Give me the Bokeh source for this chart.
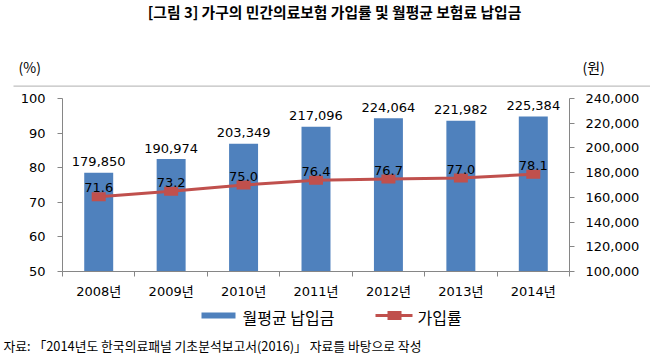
from bokeh.plotting import figure
from bokeh.layouts import column
from bokeh.models import (Range1d, LinearAxis, FixedTicker, NumeralTickFormatter,
                          ColumnDataSource, LabelSet, Label, BoxAnnotation)
from bokeh.core.properties import value
from bokeh.embed import file_html
from bokeh.resources import INLINE

years = ["2008년", "2009년", "2010년", "2011년", "2012년", "2013년", "2014년"]
premium = [179850, 190974, 203349, 217096, 224064, 221982, 225384]
rate = [71.6, 73.2, 75.0, 76.4, 76.7, 77.0, 78.1]
left_ticks = [50, 60, 70, 80, 90, 100]
right_ticks = [100000, 120000, 140000, 160000, 180000, 200000, 220000, 240000]

title_text = "[그림 3] 가구의 민간의료보험 가입률 및 월평균 보험료 납입금"
unit_left = "(%)"
unit_right = "(원)"
legend_bar = "월평균 납입금"
legend_line = "가입률"
source_note = "자료: 「2014년도 한국의료패널 기초분석보고서(2016)」 자료를 바탕으로 작성"

BAR = "#4F81BD"
RED = "#C0504D"
AXIS = "#868686"
FONT = "'DejaVu Sans', 'Noto Sans CJK KR'"
KFONT = "Noto Sans CJK KR"

W = 650
TOP_H = 88          # header strip height
FRAME_TOP = 88      # main frame top (page px)
AXIS_TOP = 98       # where 100 / 240,000 sit
FRAME_BOT = 271     # where 50 / 100,000 sit
MAIN_BOT = 302
PAGE_H = 360


def blank(h):
    f = figure(width=W, height=h, output_backend="svg", toolbar_location=None,
               x_range=Range1d(0, W), y_range=Range1d(0, h),
               x_axis_location=None, y_axis_location=None,
               frame_width=W, frame_height=h, frame_align=False,
               min_border=0, min_border_left=0, min_border_right=0,
               min_border_top=0, min_border_bottom=0)
    f.grid.visible = False
    f.outline_line_color = None
    return f


# ---------- header ----------
top = blank(TOP_H)
top.add_layout(Label(x=334, y=TOP_H - 11, text=title_text,
                     text_align="center", text_baseline="middle", text_font=KFONT,
                     text_font_size="14.8px", text_font_style="bold", text_color="#000000"))
top.add_layout(Label(x=18, y=TOP_H - 66, text=unit_left,
                     text_align="left", text_baseline="middle", text_font=KFONT,
                     text_font_size="14px", text_color="#000000"))
top.add_layout(Label(x=582, y=TOP_H - 66, text=unit_right,
                     text_align="left", text_baseline="middle", text_font=KFONT,
                     text_font_size="14px", text_color="#000000"))
top.add_layout(BoxAnnotation(left=13, right=W, bottom=TOP_H - 86.3, top=TOP_H - 85,
                             fill_color="#BFBFBF", fill_alpha=1, line_color=None))

# ---------- main chart ----------
xs = [i + 0.5 for i in range(len(years))]
src = ColumnDataSource(dict(
    x=xs, premium=premium, rate=rate,
    premium_txt=[f"{v:,}" for v in premium],
    rate_txt=[f"{v:.1f}" for v in rate],
))

frac = (FRAME_BOT - FRAME_TOP) / (FRAME_BOT - AXIS_TOP)
lmin, lmax = left_ticks[0], left_ticks[-1]
rmin, rmax = right_ticks[0], right_ticks[-1]

p = figure(width=W, height=MAIN_BOT - FRAME_TOP, output_backend="svg", toolbar_location=None,
           x_range=Range1d(0, len(years)),
           y_range=Range1d(lmin, lmin + (lmax - lmin) * frac),
           frame_align=False,
           min_border_left=62, min_border_right=W - 569,
           min_border_top=0, min_border_bottom=MAIN_BOT - FRAME_BOT)
p.extra_y_ranges = {"won": Range1d(rmin, rmin + (rmax - rmin) * frac)}
p.outline_line_color = None
p.xgrid.visible = False
p.ygrid.visible = False

p.vbar(x="x", top="premium", bottom=rmin, width=0.4, source=src, y_range_name="won",
       fill_color=BAR, line_color=None)
p.line(x="x", y="rate", source=src, line_color=RED, line_width=3)
p.rect(x="x", y="rate", width=14, height=9, width_units="screen", height_units="screen",
       source=src, fill_color=RED, line_color=None)

xa = p.xaxis[0]
xa.ticker = FixedTicker(ticks=xs, minor_ticks=list(range(len(years) + 1)))
xa.major_label_overrides = {x: y for x, y in zip(xs, years)}
xa.major_tick_out = 0
xa.major_tick_in = 0
xa.minor_tick_out = 5
xa.minor_tick_in = 0
xa.minor_tick_line_color = AXIS
xa.axis_line_color = AXIS
xa.major_label_text_font = FONT
xa.major_label_text_font_size = "13px"
xa.major_label_text_color = "#000000"
xa.major_label_standoff = 7

ya = p.yaxis[0]
ya.ticker = FixedTicker(ticks=left_ticks)
ya.bounds = (lmin, lmax)
ya.axis_line_color = AXIS
ya.major_tick_line_color = AXIS
ya.major_tick_out = 5
ya.major_tick_in = 0
ya.minor_tick_line_color = None
ya.major_label_text_font = FONT
ya.major_label_text_font_size = "13px"
ya.major_label_text_color = "#000000"
ya.major_label_standoff = 12

ra = LinearAxis(y_range_name="won", ticker=FixedTicker(ticks=right_ticks),
                formatter=NumeralTickFormatter(format="0,0"), bounds=(rmin, rmax))
ra.axis_line_color = AXIS
ra.major_tick_line_color = AXIS
ra.major_tick_out = 5
ra.major_tick_in = 0
ra.minor_tick_line_color = None
ra.major_label_text_font = FONT
ra.major_label_text_font_size = "13px"
ra.major_label_text_color = "#000000"
ra.major_label_standoff = 11
p.add_layout(ra, "right")

p.add_layout(LabelSet(x="x", y="premium", text="premium_txt", source=src, y_range_name="won",
                      text_align="center", text_baseline="middle", y_offset=11,
                      text_font=value(FONT), text_font_size="13px", text_color="#000000"))
p.add_layout(LabelSet(x="x", y="rate", text="rate_txt", source=src,
                      text_align="center", text_baseline="middle", y_offset=9,
                      text_font=value(FONT), text_font_size="13px", text_color="#000000"))

# ---------- legend + source ----------
bot_h = PAGE_H - MAIN_BOT
bot = blank(bot_h)


def yb(Y):
    return PAGE_H - Y


bot.add_layout(BoxAnnotation(left=201, right=235, bottom=yb(318), top=yb(312),
                             fill_color=BAR, fill_alpha=1, line_color=None))
bot.add_layout(Label(x=242, y=yb(316), text=legend_bar,
                     text_align="left", text_baseline="middle", text_font=KFONT,
                     text_font_size="16px", text_color="#000000"))
bot.add_layout(BoxAnnotation(left=375, right=412, bottom=yb(316.5), top=yb(313.5),
                             fill_color=RED, fill_alpha=1, line_color=None))
bot.add_layout(BoxAnnotation(left=387, right=401, bottom=yb(319.5), top=yb(310.5),
                             fill_color=RED, fill_alpha=1, line_color=None))
bot.add_layout(Label(x=417, y=yb(316), text=legend_line,
                     text_align="left", text_baseline="middle", text_font=KFONT,
                     text_font_size="16px", text_color="#000000"))
bot.add_layout(Label(x=3, y=yb(345), text=source_note,
                     text_align="left", text_baseline="middle", text_font=KFONT,
                     text_font_size="12.8px", text_color="#000000"))

layout = column(top, p, bot, spacing=0)
open("out.html", "w").write(file_html(layout, INLINE))
